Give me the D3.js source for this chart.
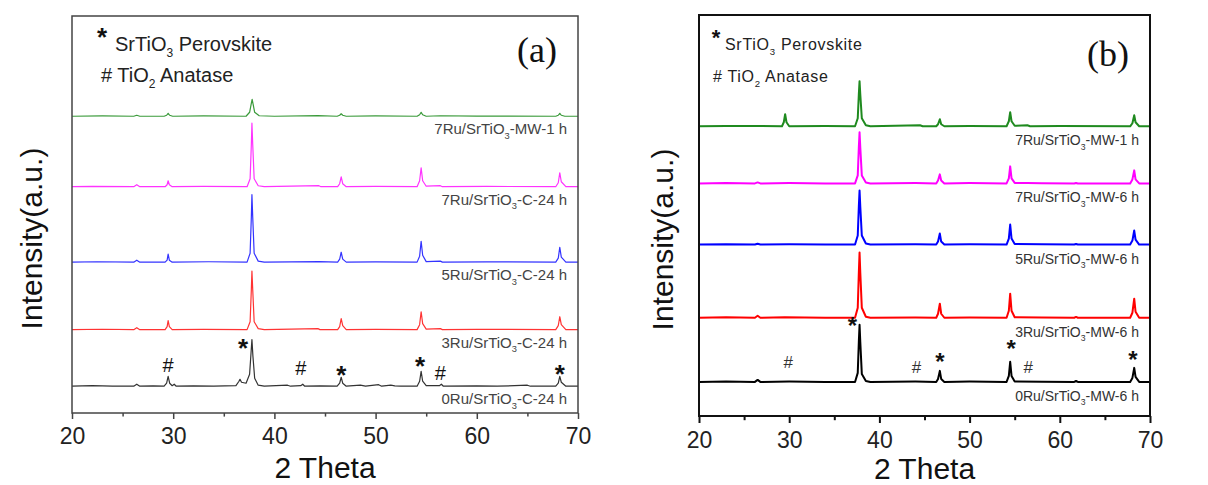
<!DOCTYPE html>
<html>
<head>
<meta charset="utf-8">
<script src="https://cdn.jsdelivr.net/npm/d3@7"></script>
<style>
  html, body { margin: 0; padding: 0; background: #fff; }
  svg { display: block; font-family: "Liberation Sans", Arial, sans-serif; }
</style>
</head>
<body>
<svg id="chart" width="1208" height="485"></svg>
<script>
// ---------------- DATA ----------------
const xTicks = [20, 30, 40, 50, 60, 70];
const xMinorTicks = [25, 35, 45, 55, 65];
const xLabel = "2 Theta";
const yLabel = "Intensity(a.u.)";
const legendStar = "SrTiO3 Perovskite";
const legendHash = "TiO2 Anatase";

// Panel (a)
const samplesA = ["0Ru/SrTiO3-C-24 h", "3Ru/SrTiO3-C-24 h", "5Ru/SrTiO3-C-24 h", "7Ru/SrTiO3-C-24 h", "7Ru/SrTiO3-MW-1 h"];
const offsetsA = [27, 84, 152, 228, 299];
const a_0Ru_C24 = [[20,0],[22,0.5],[24,0],[26.1,0],[26.4,2],[26.7,0],[28,0.3],[29.1,0],[29.35,3],[29.5,10],[29.65,3],[29.9,0.5],[30.1,2],[30.3,0],[32,0.4],[34,0],[36.2,0.5],[36.5,5],[36.6,7],[36.75,4],[37.2,3],[37.55,12],[37.7,35],[37.78,47],[37.88,30],[38.05,8],[38.4,1],[39,0],[41.3,1],[41.6,0],[42.6,0.5],[42.8,2],[43.0,0],[44.5,0.3],[46.2,0],[46.45,3],[46.6,9],[46.75,3],[47.1,0],[48.5,1],[49,0],[50.3,1.5],[50.6,0],[51.5,1],[51.9,0.3],[52.5,0],[54.1,0],[54.35,5],[54.5,15],[54.65,5],[55,0.5],[56.3,0.5],[56.5,2],[56.7,0],[60,0.3],[62,0],[65.0,1],[65.3,0],[67.8,0],[68.05,3],[68.2,10],[68.35,4],[68.8,0],[70,0]];
const a_3Ru_C24 = [[20,0],[23,0.4],[26.1,0],[26.4,2],[26.7,0],[29.2,0],[29.4,3],[29.5,9],[29.62,3],[29.9,0],[33,0.3],[37.3,0],[37.6,8],[37.72,40],[37.78,59],[37.86,40],[38.0,8],[38.4,1],[39,0],[44.3,1],[44.5,0],[46.25,0],[46.45,3],[46.6,11],[46.75,4],[47.1,0],[50,0.3],[54.1,0],[54.35,5],[54.5,18],[54.65,6],[55,0.5],[56.4,1],[56.6,0],[60,0.3],[67.8,0],[68.05,4],[68.2,13],[68.35,5],[68.8,0],[70,0]];
const a_5Ru_C24 = [[20,0],[22.5,0.4],[26.1,0],[26.4,2],[26.7,0],[29.2,0],[29.4,2],[29.5,8],[29.62,2],[29.9,0],[33.5,0.4],[37.3,0],[37.6,9],[37.72,45],[37.78,68],[37.86,45],[38.0,9],[38.4,1],[39,0],[44.4,0.6],[46.25,0],[46.45,3],[46.6,10],[46.75,3],[47.1,0],[50,0.3],[54.1,0],[54.35,6],[54.5,21],[54.65,7],[55,0.5],[56.4,1],[56.6,0],[61,0.3],[67.8,0],[68.05,4],[68.2,15],[68.35,5],[68.8,0],[70,0]];
const a_7Ru_C24 = [[20,0],[22,0.4],[26.1,0],[26.4,2],[26.7,0],[29.2,0],[29.4,2],[29.5,6],[29.62,2],[29.9,0],[33,0.3],[37.3,0],[37.6,8],[37.72,42],[37.78,64],[37.86,42],[38.0,8],[38.4,1],[39,0],[44.4,1],[44.6,0],[46.25,0],[46.45,3],[46.6,10],[46.75,3],[47.1,0],[50,0.3],[54.1,0],[54.35,6],[54.5,19],[54.65,6],[55,0.5],[56.4,1],[56.6,0],[61,0.3],[67.8,0],[68.05,4],[68.2,14],[68.35,5],[68.8,0],[70,0]];
const a_7Ru_MW1 = [[20,0],[23,0.3],[26.1,0],[26.4,1],[26.7,0],[29.1,0],[29.35,1],[29.5,3],[29.65,1],[29.95,0],[33,0.3],[37.2,0],[37.55,4],[37.7,12],[37.8,17],[37.9,12],[38.05,4],[38.5,0.5],[40,0],[44.3,0.6],[46.2,0],[46.45,1],[46.6,2.5],[46.75,1],[47.1,0],[50,0.3],[54.1,0],[54.35,1.5],[54.5,4],[54.65,1.5],[55,0],[56.4,0.5],[60,0.2],[67.8,0],[68.05,1],[68.2,3],[68.35,1],[68.7,0],[70,0]];
const seriesA = [a_0Ru_C24, a_3Ru_C24, a_5Ru_C24, a_7Ru_C24, a_7Ru_MW1];
const markersA = [["#",29.5,48],["*",36.9,72],["#",42.6,45],["*",46.6,44],["*",54.4,53],["#",56.4,40],["*",68.2,45]];

// Panel (b)
const samplesB = ["0Ru/SrTiO3-MW-6 h", "3Ru/SrTiO3-MW-6 h", "5Ru/SrTiO3-MW-6 h", "7Ru/SrTiO3-MW-6 h", "7Ru/SrTiO3-MW-1 h"];
const offsetsB = [34, 98, 171, 232, 289];
const b_0Ru_MW6 = [[20,0],[23,0.4],[26.2,0],[26.5,2],[26.8,0],[30,0.3],[34,0],[37.3,0],[37.6,9],[37.72,40],[37.8,57],[37.88,40],[38.05,8],[38.5,1],[39,0],[44,0.3],[46.3,0],[46.5,3],[46.7,11],[46.85,3],[47.2,0],[50,0.3],[54.1,0],[54.35,6],[54.5,20],[54.65,6],[55,0.5],[58,0.2],[61.6,0],[61.8,1],[62,0],[67.8,0],[68.05,4],[68.25,14],[68.4,5],[68.8,0],[70,0]];
const b_3Ru_MW6 = [[20,0],[23,0.4],[26.2,0],[26.5,2],[26.8,0],[29.5,0.4],[34,0],[37.3,0],[37.6,10],[37.72,45],[37.8,65],[37.88,45],[38.05,10],[38.5,1],[39,0],[44,0.3],[46.3,0],[46.5,4],[46.7,14],[46.85,4],[47.2,0],[50,0.3],[54.1,0],[54.35,7],[54.5,24],[54.65,7],[55,0.5],[58,0.2],[61.6,0],[61.8,0.8],[62,0],[67.8,0],[68.05,5],[68.25,19],[68.4,6],[68.8,0],[70,0]];
const b_5Ru_MW6 = [[20,0],[23,0.4],[26.2,0],[26.5,0.8],[26.8,0],[30,0.3],[34,0],[37.3,0],[37.6,9],[37.72,38],[37.8,54],[37.88,38],[38.05,9],[38.5,1],[39,0],[44,0.3],[46.3,0],[46.5,3],[46.7,11],[46.85,3],[47.2,0],[50,0.3],[54.1,0],[54.35,6],[54.5,20],[54.65,6],[55,0.5],[58,0.2],[61.6,0],[61.8,0.5],[62,0],[67.8,0],[68.05,4],[68.25,14],[68.4,5],[68.8,0],[70,0]];
const b_7Ru_MW6 = [[20,0],[23,0.4],[26.2,0],[26.5,1],[26.8,0],[30,0.3],[34,0],[37.3,0],[37.6,8],[37.72,36],[37.8,51],[37.88,36],[38.05,8],[38.5,1],[39,0],[44,0.3],[46.3,0],[46.5,3],[46.7,9],[46.85,3],[47.2,0],[50,0.3],[54.1,0],[54.35,5],[54.5,17],[54.65,5],[55,0.5],[56.4,0.5],[58,0.2],[61.6,0],[61.8,0.5],[62,0],[67.8,0],[68.05,4],[68.25,13],[68.4,4],[68.8,0],[70,0]];
const b_7Ru_MW1 = [[20,0],[23,0.4],[26.5,0.3],[29.2,0],[29.4,4],[29.55,12],[29.7,4],[30,0],[34,0.3],[37.3,0],[37.6,8],[37.72,32],[37.8,45],[37.88,32],[38.05,8],[38.5,1],[39,0],[44.5,1],[44.8,0],[46.3,0],[46.5,2],[46.7,7],[46.85,2],[47.2,0],[50,0.3],[54.1,0],[54.35,5],[54.5,14],[54.65,5],[55,0.5],[56.4,1],[56.7,0],[60,0.2],[67.8,0],[68.05,3],[68.25,11],[68.4,4],[68.8,0],[70,0]];
const seriesB = [b_0Ru_MW6, b_3Ru_MW6, b_5Ru_MW6, b_7Ru_MW6, b_7Ru_MW1];
const markersB = [["#",29.9,54],["*",37.0,96],["#",44.1,49],["*",46.7,60],["*",54.6,73],["#",56.5,49],["*",68.1,62]];

// ---------------- DRAW ----------------
const svg = d3.select("#chart");

function addFormula(textSel, str, subPx) {
  const parts = str.split(/(?<=O)(\d)/);
  parts.forEach((p, i) => {
    if (i % 2 === 1) {
      textSel.append("tspan").attr("dy", subPx * 0.5).attr("font-size", subPx).text(p);
    } else {
      const t = textSel.append("tspan").text(p);
      if (i > 0) t.attr("dy", -subPx * 0.5);
    }
  });
}

function drawPanel(cfg) {
  const { box, samples, offsets, series, markers, colors, lineW, frameColor, frameW } = cfg;
  const x = d3.scaleLinear().domain([20, 70]).range([box.left, box.right]);
  const y = d3.scaleLinear().domain([0, 400]).range([box.bottom, box.top]);
  const g = svg.append("g");

  // lines
  const line = d3.line().x(d => x(d[0])).y(d => y(d[1]));
  series.forEach((s, i) => {
    g.append("path")
      .attr("d", line(s.map(p => [p[0], p[1] + offsets[i]])))
      .attr("fill", "none")
      .attr("stroke", colors[i])
      .attr("stroke-width", lineW)
      .attr("stroke-linejoin", "round");
  });

  // frame
  g.append("rect")
    .attr("x", box.left).attr("y", box.top)
    .attr("width", box.right - box.left).attr("height", box.bottom - box.top)
    .attr("fill", "none").attr("stroke", frameColor).attr("stroke-width", frameW);

  // x axis
  const ax = g.append("g").attr("transform", `translate(0,${box.bottom})`)
    .call(d3.axisBottom(x).tickValues(xTicks).tickSize(cfg.tickLen).tickPadding(cfg.tickPad).tickFormat(d3.format("d")));
  ax.select(".domain").remove();
  ax.selectAll(".tick line").attr("stroke", frameColor).attr("stroke-width", frameW);
  ax.selectAll(".tick text").attr("font-size", 23).attr("fill", "#222")
    .attr("font-family", "'Liberation Sans', Arial, sans-serif");
  const axm = g.append("g").attr("transform", `translate(0,${box.bottom})`)
    .call(d3.axisBottom(x).tickValues(xMinorTicks).tickSize(cfg.tickLen * 0.6).tickFormat(""));
  axm.select(".domain").remove();
  axm.selectAll(".tick line").attr("stroke", frameColor).attr("stroke-width", frameW);

  // axis titles
  g.append("text").attr("x", (box.left + box.right) / 2).attr("y", cfg.xLabelY)
    .attr("text-anchor", "middle").attr("font-size", 30).attr("fill", "#111").text(xLabel);
  g.append("text").attr("transform", `translate(${cfg.yLabelX},${(box.top + box.bottom) / 2 + 24}) rotate(-90)`)
    .attr("text-anchor", "middle").attr("font-size", 30).attr("fill", "#111").text(yLabel);

  // sample labels
  samples.forEach((s, i) => {
    const t = g.append("text")
      .attr("x", box.right - 11)
      .attr("y", y(offsets[i]) + cfg.labelGap)
      .attr("text-anchor", "end")
      .attr("font-size", cfg.labelSize)
      .attr("letter-spacing", cfg.labelSpacing)
      .attr("fill", cfg.labelColor);
    addFormula(t, s, cfg.labelSize * 0.62);
  });

  // peak markers
  markers.forEach(m => {
    const star = m[0] === "*";
    g.append("text")
      .attr("x", x(m[1])).attr("y", y(m[2]) + (star ? cfg.starDy : cfg.hashDy))
      .attr("text-anchor", "middle")
      .attr("font-size", star ? cfg.starSize : cfg.hashSize)
      .attr("font-weight", star ? "bold" : "normal")
      .attr("fill", star ? "#111" : cfg.hashColor)
      .text(m[0]);
  });

  // legend
  const lg = cfg.legend;
  g.append("text").attr("x", lg.starX).attr("y", lg.starY).attr("text-anchor", "middle")
    .attr("font-size", lg.starSize).attr("font-weight", "bold").attr("fill", "#111").text("*");
  const t1 = g.append("text").attr("x", lg.textX).attr("y", lg.row1)
    .attr("font-size", lg.size).attr("letter-spacing", lg.spacing).attr("fill", "#222");
  addFormula(t1, legendStar, lg.size * 0.6);
  const t2 = g.append("text").attr("x", lg.hashX).attr("y", lg.row2)
    .attr("font-size", lg.size).attr("letter-spacing", lg.spacing).attr("fill", "#222");
  addFormula(t2, "# " + legendHash, lg.size * 0.6);

  // panel tag
  g.append("text").attr("x", cfg.tag.x).attr("y", cfg.tag.y).attr("text-anchor", "middle")
    .attr("font-family", "'Liberation Serif', 'Times New Roman', serif")
    .attr("font-size", 36).attr("fill", "#111").text(cfg.tag.text);
}

drawPanel({
  box: { left: 72, right: 578, top: 16, bottom: 413 },
  samples: samplesA, offsets: offsetsA, series: seriesA, markers: markersA,
  colors: ["#333333", "#ff3333", "#3333ff", "#ff33ff", "#3a9a3a"],
  lineW: 1.2, frameColor: "#444", frameW: 1.5,
  tickLen: 6, tickPad: 9, yLabelX: 42, xLabelY: 478,
  labelGap: 18, labelSize: 15, labelSpacing: 0, labelColor: "#444",
  starSize: 26, hashSize: 20, starDy: 15, hashDy: 7, hashColor: "#111",
  legend: { starX: 102, starY: 46, starSize: 26, textX: 115, hashX: 101, row1: 51, row2: 82, size: 20, spacing: 0 },
  tag: { x: 537, y: 62, text: "(a)" }
});

drawPanel({
  box: { left: 699, right: 1150, top: 15, bottom: 416 },
  samples: samplesB, offsets: offsetsB, series: seriesB, markers: markersB,
  colors: ["#000000", "#ff0000", "#0000ff", "#ff00ff", "#1f8a1f"],
  lineW: 2, frameColor: "#111", frameW: 2,
  tickLen: 7, tickPad: 9, yLabelX: 673, xLabelY: 479,
  labelGap: 19, labelSize: 14, labelSpacing: 0, labelColor: "#333",
  starSize: 24, hashSize: 17, starDy: 14, hashDy: 6, hashColor: "#333",
  legend: { starX: 716, starY: 45, starSize: 22, textX: 725, hashX: 713, row1: 50, row2: 82, size: 16, spacing: 0.7 },
  tag: { x: 1108, y: 66, text: "(b)" }
});
</script>
</body>
</html>
